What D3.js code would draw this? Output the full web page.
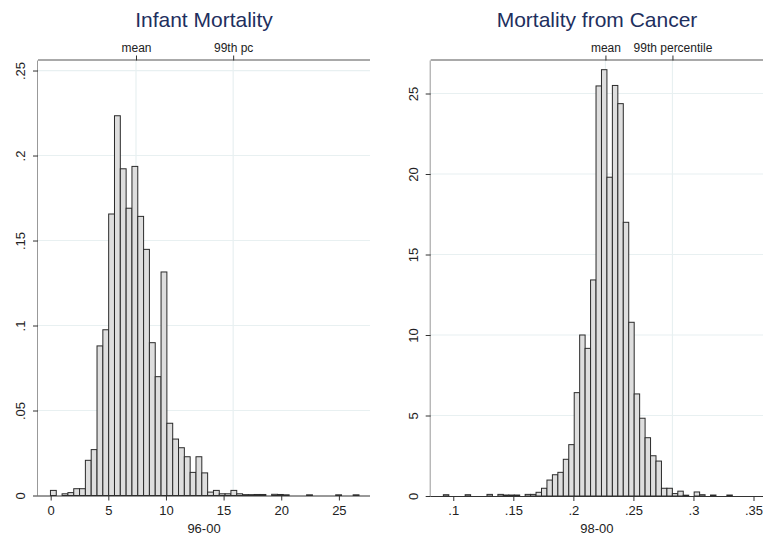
<!DOCTYPE html>
<html>
<head>
<meta charset="utf-8">
<script src="https://cdn.jsdelivr.net/npm/d3@7"></script>
<style>
  body { margin: 0; background: #fff; }
  svg { display: block; font-family: "Liberation Sans", Arial, sans-serif; }
</style>
</head>
<body>
<svg id="chart" width="766" height="539"></svg>
<script>
// infant mortality 96-00, histogram densities (bins of equal width)
var infantBinStart = -0.02;
var infantBinWidth = 0.505;
var infantDensity = [0.003, 0, 0.001, 0.0017, 0.004, 0.004, 0.0207, 0.027, 0.088, 0.0975,
  0.1656, 0.2234, 0.1922, 0.169, 0.1936, 0.1642, 0.1448, 0.0899, 0.0699, 0.1315,
  0.0425, 0.0332, 0.0281, 0.0228, 0.0136, 0.0228, 0.0133, 0.002, 0.003, 0.001,
  0.001, 0.003, 0.001, 0.0005, 0.0005, 0.0006, 0.0006, 0, 0.0007, 0.0006,
  0.0004, 0, 0, 0, 0.0004, 0, 0, 0, 0, 0.0004, 0, 0, 0.0004];
var infantXTicks = [0, 5, 10, 15, 20, 25];
var infantYTicks = [0, 0.05, 0.1, 0.15, 0.2, 0.25];
var infantMarkers = [{label: 'mean', value: 7.4}, {label: '99th pc', value: 15.83}];

// mortality from cancer 98-00
var cancerBinStart = 0.09174;
var cancerBinWidth = 0.00454;
var cancerDensity = [0.08, 0, 0, 0, 0.08, 0, 0, 0, 0.1, 0,
  0.1, 0.06, 0.06, 0.06, 0, 0.1, 0.1, 0.23, 0.48, 0.99,
  1.32, 1.47, 2.28, 3.19, 6.42, 10.0, 9.17, 13.42, 25.47, 26.48,
  19.8, 25.5, 24.37, 17.0, 10.79, 6.34, 4.83, 3.62, 2.50, 2.17,
  0.48, 0.48, 0.15, 0.3, 0.05, 0, 0.25, 0.08, 0, 0.06,
  0, 0, 0.06];
var cancerXTicks = [0.1, 0.15, 0.2, 0.25, 0.3, 0.35];
var cancerYTicks = [0, 5, 10, 15, 20, 25];
var cancerMarkers = [{label: 'mean', value: 0.2267}, {label: '99th percentile', value: 0.2825}];

var svg = d3.select('#chart');
var gridColor = '#e8f0f1';

// stata style numbers: .05 instead of 0.05
function stataFmt(d) {
  var s = String(+d.toFixed(4));
  return s.replace(/^0\./, '.');
}

function panel(opt) {
  var x = d3.scaleLinear().domain(opt.xDomain).range([opt.left, opt.right]);
  var y = d3.scaleLinear().domain(opt.yDomain).range([opt.bottom, opt.top]);
  var g = svg.append('g');

  // horizontal grid
  g.selectAll('.hgrid')
    .data(opt.yTicks.filter(d => d > 0))
    .join('line')
    .attr('x1', opt.left).attr('x2', opt.right)
    .attr('y1', d => y(d)).attr('y2', d => y(d))
    .attr('stroke', gridColor).attr('stroke-width', 1.2);

  // vertical grid at mean / 99th
  g.selectAll('.vgrid')
    .data(opt.markers)
    .join('line')
    .attr('x1', d => x(d.value)).attr('x2', d => x(d.value))
    .attr('y1', opt.top).attr('y2', opt.bottom)
    .attr('stroke', gridColor).attr('stroke-width', 1.2);

  // bars
  var bins = opt.density.map((v, i) => ({
    x0: opt.binStart + i * opt.binWidth,
    x1: opt.binStart + (i + 1) * opt.binWidth,
    v: v
  })).filter(d => d.v > 0);

  g.selectAll('rect')
    .data(bins)
    .join('rect')
    .attr('x', d => x(d.x0))
    .attr('width', d => x(d.x1) - x(d.x0))
    .attr('y', d => y(d.v))
    .attr('height', d => y(0) - y(d.v))
    .attr('fill', '#dedede')
    .attr('stroke', '#2a2a2a')
    .attr('stroke-width', 1);

  // bottom axis
  var xAxis = g.append('g')
    .attr('transform', `translate(0,${opt.bottom})`)
    .call(d3.axisBottom(x).tickValues(opt.xTicks).tickFormat(stataFmt).tickSizeOuter(0).tickSize(5).tickPadding(5));
  xAxis.select('.domain').attr('stroke', '#333').attr('d', `M${opt.left},0.5H${opt.right}`);
  xAxis.selectAll('.tick line').attr('stroke', '#333');
  xAxis.selectAll('text').attr('font-size', 13).attr('fill', '#222')
    .attr('font-family', '"Liberation Sans", Arial, sans-serif');

  // left axis
  var yAxis = g.append('g')
    .attr('transform', `translate(${opt.left},0)`)
    .call(d3.axisLeft(y).tickValues(opt.yTicks).tickFormat(stataFmt).tickSizeOuter(0).tickSize(5));
  yAxis.select('.domain').attr('stroke', '#999').attr('d', `M-0.5,${opt.top}V${opt.bottom}`);
  yAxis.selectAll('.tick line').attr('stroke', '#333');
  yAxis.selectAll('text')
    .attr('x', null).attr('dy', null)
    .attr('transform', 'translate(-13,0) rotate(-90)')
    .attr('text-anchor', 'middle')
    .attr('font-size', 13).attr('fill', '#222')
    .attr('font-family', '"Liberation Sans", Arial, sans-serif');

  // top axis with markers
  var topAxis = g.append('g')
    .attr('transform', `translate(0,${opt.top})`)
    .call(d3.axisTop(x).tickValues(opt.markers.map(d => d.value))
      .tickFormat((d, i) => opt.markers[i].label).tickSizeOuter(0).tickSize(5).tickPadding(4));
  topAxis.select('.domain').attr('stroke', '#555').attr('d', `M${opt.left},-0.5H${opt.right}`);
  topAxis.selectAll('.tick line').attr('stroke', '#333');
  topAxis.selectAll('text').attr('font-size', 12).attr('fill', '#222')
    .attr('font-family', '"Liberation Sans", Arial, sans-serif');

  // titles
  svg.append('text')
    .attr('x', opt.titleX).attr('y', 27)
    .attr('text-anchor', 'middle')
    .attr('font-size', 21)
    .attr('fill', '#1e2f5e')
    .text(opt.title);

  svg.append('text')
    .attr('x', (opt.left + opt.right) / 2).attr('y', 533)
    .attr('text-anchor', 'middle')
    .attr('font-size', 13)
    .attr('fill', '#222')
    .text(opt.xTitle);
}

panel({
  title: 'Infant Mortality', titleX: 204, xTitle: '96-00',
  left: 38, right: 370, top: 60.5, bottom: 495.5,
  xDomain: [-1.1, 27.7], yDomain: [0, 0.2559],
  xTicks: infantXTicks, yTicks: infantYTicks, markers: infantMarkers,
  density: infantDensity, binStart: infantBinStart, binWidth: infantBinWidth
});

panel({
  title: 'Mortality from Cancer', titleX: 597, xTitle: '98-00',
  left: 430.7, right: 763, top: 60.5, bottom: 496,
  xDomain: [0.0812, 0.3579], yDomain: [0, 27.05],
  xTicks: cancerXTicks, yTicks: cancerYTicks, markers: cancerMarkers,
  density: cancerDensity, binStart: cancerBinStart, binWidth: cancerBinWidth
});
</script>
</body>
</html>
